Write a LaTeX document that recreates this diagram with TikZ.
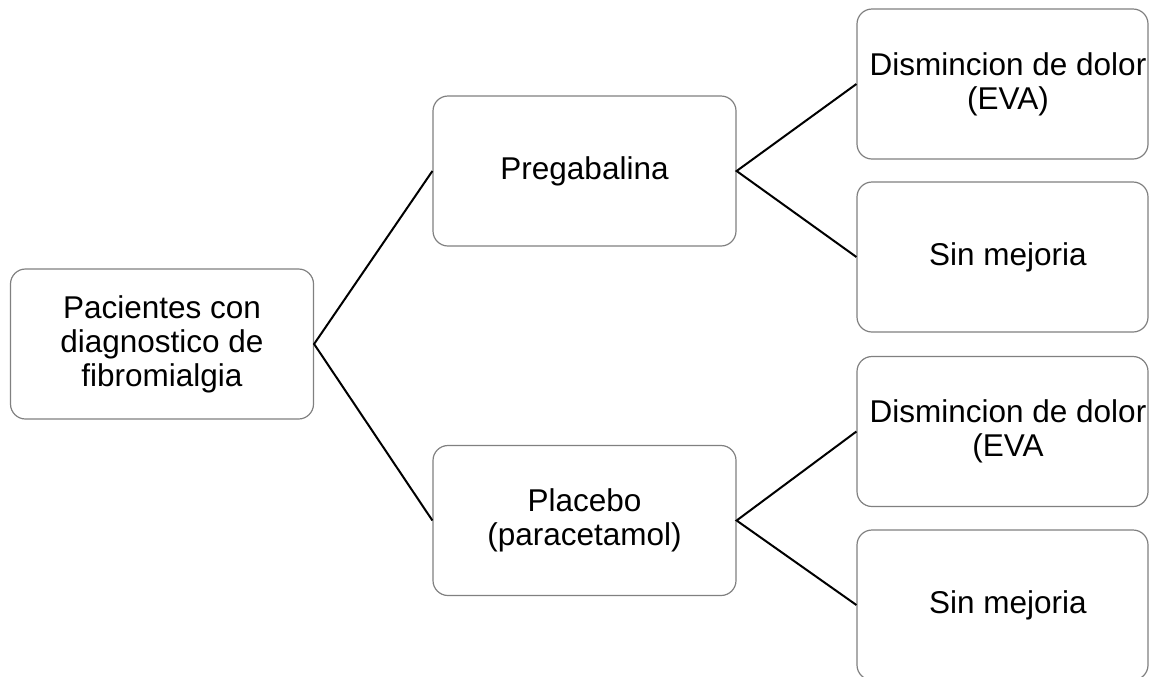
\documentclass[tikz,border=0pt]{standalone}
\usepackage{fontspec}
\setmainfont{Liberation Sans}
\begin{document}
\begin{tikzpicture}[x=0.5pt,y=-0.5pt,
  box/.style={draw=black!50, line width=0.6pt, rounded corners=7.5pt, minimum height=75pt, inner sep=0pt},
  wbox/.style={box, minimum width=151.5pt},
  nbox/.style={box, minimum width=145.5pt},
  lbl/.style={align=center, inner sep=0pt, font=\fontsize{15.75}{17}\selectfont},
  link/.style={line width=1pt, black}]
\useasboundingbox (0,0) rectangle (1149,676);
\clip (0,0) rectangle (1149,676);
\node[wbox] (root) at (162,344) {};
\node[lbl] (rootT) at (162,344) {Pacientes con\\diagnostico de\\fibromialgia};
\node[wbox] (preg) at (584.5,171) {};
\node[lbl] (pregT) at (584.5,171) {Pregabalina};
\node[wbox] (plac) at (584.5,520.5) {};
\node[lbl] (placT) at (584.5,520.5) {Placebo\\(paracetamol)};
\node[nbox] (r1) at (1002.5,84) {};
\node[lbl] (r1T) at (1008,84) {Dismincion de dolor\\(EVA)};
\node[nbox] (r2) at (1002.5,257) {};
\node[lbl] (r2T) at (1008,257) {Sin mejoria};
\node[nbox] (r3) at (1002.5,431.5) {};
\node[lbl] (r3T) at (1008,431.5) {Dismincion de dolor\\(EVA};
\node[nbox] (r4) at (1002.5,605) {};
\node[lbl] (r4T) at (1008,605) {Sin mejoria};
\draw[link] (preg.west) -- (root.east) -- (plac.west);
\draw[link] (r1.west) -- (preg.east) -- (r2.west);
\draw[link] (r3.west) -- (plac.east) -- (r4.west);
\end{tikzpicture}
\end{document}
